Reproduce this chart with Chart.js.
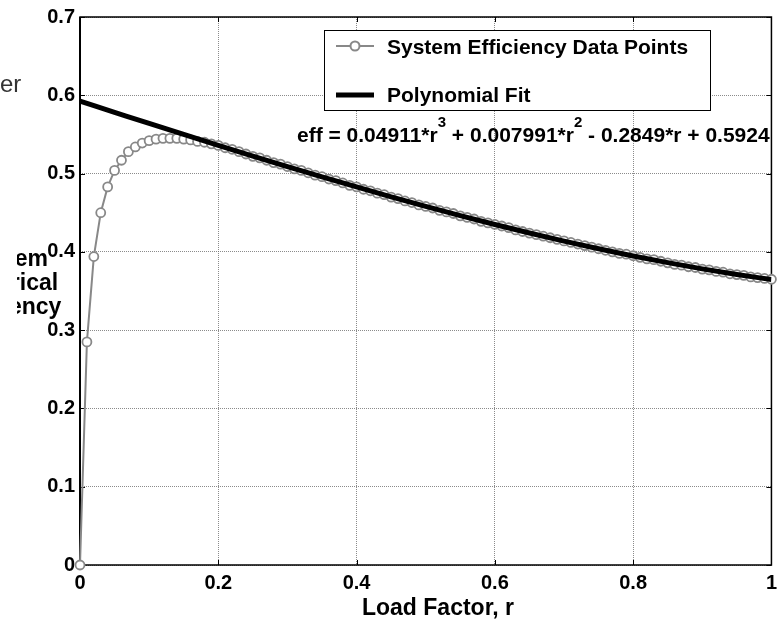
<!DOCTYPE html>
<html>
<head>
<meta charset="utf-8">
<script src="https://cdn.jsdelivr.net/npm/chart.js@4"></script>
<style>
  html, body { margin: 0; padding: 0; background: #fff; }
  #wrap { width: 783px; height: 620px; position: relative; }
</style>
</head>
<body>
<div id="wrap"><canvas id="effChart"></canvas></div>
<script>
// load factor r for the measured points
const loadFactor = [
  0.00, 0.01, 0.02, 0.03, 0.04, 0.05, 0.06, 0.07, 0.08, 0.09,
  0.10, 0.11, 0.12, 0.13, 0.14, 0.15, 0.16, 0.17, 0.18, 0.19,
  0.20, 0.21, 0.22, 0.23, 0.24, 0.25, 0.26, 0.27, 0.28, 0.29,
  0.30, 0.31, 0.32, 0.33, 0.34, 0.35, 0.36, 0.37, 0.38, 0.39,
  0.40, 0.41, 0.42, 0.43, 0.44, 0.45, 0.46, 0.47, 0.48, 0.49,
  0.50, 0.51, 0.52, 0.53, 0.54, 0.55, 0.56, 0.57, 0.58, 0.59,
  0.60, 0.61, 0.62, 0.63, 0.64, 0.65, 0.66, 0.67, 0.68, 0.69,
  0.70, 0.71, 0.72, 0.73, 0.74, 0.75, 0.76, 0.77, 0.78, 0.79,
  0.80, 0.81, 0.82, 0.83, 0.84, 0.85, 0.86, 0.87, 0.88, 0.89,
  0.90, 0.91, 0.92, 0.93, 0.94, 0.95, 0.96, 0.97, 0.98, 0.99,
  1.00
];
// system efficiency data points
const efficiency = [
  0.000, 0.285, 0.394, 0.450, 0.483, 0.504, 0.517, 0.528, 0.534, 0.539,
  0.542, 0.544, 0.545, 0.545, 0.545, 0.544, 0.543, 0.541, 0.540, 0.538,
  0.536, 0.533, 0.531, 0.528, 0.525, 0.522, 0.520, 0.517, 0.514, 0.512,
  0.509, 0.506, 0.504, 0.501, 0.498, 0.496, 0.493, 0.491, 0.488, 0.485,
  0.483, 0.480, 0.478, 0.475, 0.473, 0.470, 0.468, 0.465, 0.463, 0.460,
  0.458, 0.456, 0.453, 0.451, 0.449, 0.446, 0.444, 0.442, 0.439, 0.437,
  0.435, 0.433, 0.431, 0.428, 0.426, 0.424, 0.422, 0.420, 0.418, 0.416,
  0.414, 0.412, 0.410, 0.408, 0.406, 0.404, 0.402, 0.400, 0.398, 0.397,
  0.395, 0.393, 0.391, 0.390, 0.388, 0.386, 0.384, 0.383, 0.381, 0.380,
  0.378, 0.377, 0.375, 0.374, 0.372, 0.371, 0.370, 0.368, 0.367, 0.366,
  0.365
];
// polynomial fit curve
const fitR = [0, 0.05, 0.1, 0.15, 0.2, 0.25, 0.3, 0.35, 0.4, 0.45, 0.5,
  0.55, 0.6, 0.65, 0.7, 0.75, 0.8, 0.85, 0.9, 0.95, 1.0];
const fitEff = [0.5924, 0.5782, 0.5640, 0.5500, 0.5361, 0.5224, 0.5090, 0.4958,
  0.4829, 0.4703, 0.4581, 0.4463, 0.4350, 0.4241, 0.4137, 0.4039, 0.3947,
  0.3862, 0.3783, 0.3711, 0.3646];

const xTickLabels = ["0", "0.2", "0.4", "0.6", "0.8", "1"];
const yTickLabels = ["0", "0.1", "0.2", "0.3", "0.4", "0.5", "0.6", "0.7"];

const FONT = "'Liberation Sans', Arial, sans-serif";
const GRAY = "#888888";

// box, inner ticks, labels, legend and equation, matlab style
const decor = {
  id: "decor",
  beforeDatasetsDraw(chart) {
    const { ctx, chartArea: a, scales } = chart;
    ctx.save();
    ctx.strokeStyle = "#000";
    ctx.lineWidth = 1;
    scales.x.ticks.forEach((t) => {
      const px = Math.round(scales.x.getPixelForValue(t.value)) + 0.5;
      ctx.beginPath();
      ctx.moveTo(px, a.bottom); ctx.lineTo(px, a.bottom - 5);
      ctx.moveTo(px, a.top); ctx.lineTo(px, a.top + 5);
      ctx.stroke();
    });
    scales.y.ticks.forEach((t) => {
      const py = Math.round(scales.y.getPixelForValue(t.value)) + 0.5;
      ctx.beginPath();
      ctx.moveTo(a.left, py); ctx.lineTo(a.left + 5, py);
      ctx.moveTo(a.right, py); ctx.lineTo(a.right - 5, py);
      ctx.stroke();
    });
    ctx.lineWidth = 1.5;
    ctx.strokeRect(a.left, a.top, a.right - a.left, a.bottom - a.top);
    ctx.lineWidth = 2;
    ctx.beginPath();
    ctx.moveTo(a.left, a.top); ctx.lineTo(a.left, a.bottom);
    ctx.stroke();
    ctx.restore();
  },
  afterDraw(chart) {
    const { ctx } = chart;
    ctx.save();
    // clipped label pieces at the left edge
    ctx.fillStyle = "#333";
    ctx.font = "24px " + FONT;
    ctx.textAlign = "left";
    ctx.textBaseline = "alphabetic";
    ctx.fillText("er", 0, 92);

    ctx.save();
    ctx.beginPath();
    ctx.rect(17, 230, 80, 100);
    ctx.clip();
    ctx.fillStyle = "#000";
    ctx.font = "bold 23px " + FONT;
    ctx.textAlign = "center";
    ctx.fillText("System", 7, 266);
    ctx.fillText("Electrical", 7, 290);
    ctx.fillText("Efficiency", 7, 314);
    ctx.restore();

    // x axis title
    ctx.fillStyle = "#000";
    ctx.font = "bold 23px " + FONT;
    ctx.textAlign = "center";
    ctx.fillText("Load Factor, r", 438, 615);

    // legend
    ctx.fillStyle = "#fff";
    ctx.fillRect(324, 30, 386, 80);
    ctx.strokeStyle = "#000";
    ctx.lineWidth = 1;
    ctx.strokeRect(324.5, 30.5, 386, 80);
    ctx.strokeStyle = GRAY;
    ctx.lineWidth = 2;
    ctx.beginPath();
    ctx.moveTo(336, 46); ctx.lineTo(374, 46);
    ctx.stroke();
    ctx.beginPath();
    ctx.arc(355, 46, 4.5, 0, Math.PI * 2);
    ctx.fillStyle = "#fff";
    ctx.fill();
    ctx.stroke();
    ctx.strokeStyle = "#000";
    ctx.lineWidth = 5;
    ctx.beginPath();
    ctx.moveTo(336, 95); ctx.lineTo(374, 95);
    ctx.stroke();
    ctx.fillStyle = "#000";
    ctx.font = "bold 21px " + FONT;
    ctx.textAlign = "left";
    ctx.fillText("System Efficiency Data Points", 387, 54);
    ctx.fillText("Polynomial Fit", 387, 102);

    // fit equation with superscripts
    const parts = [
      ["eff = 0.04911*r", false], ["3", true],
      [" + 0.007991*r", false], ["2", true],
      [" - 0.2849*r + 0.5924", false]
    ];
    let x = 297;
    parts.forEach(([txt, sup]) => {
      ctx.font = (sup ? "bold 15px " : "bold 21px ") + FONT;
      ctx.fillText(txt, x, sup ? 127 : 142);
      x += ctx.measureText(txt).width;
    });
    ctx.restore();
  }
};

const ctx = document.getElementById("effChart").getContext("2d");
new Chart(ctx, {
  type: "scatter",
  data: {
    datasets: [
      {
        label: "Polynomial Fit",
        data: fitR.map((r, i) => ({ x: r, y: fitEff[i] })),
        showLine: true,
        borderColor: "#000",
        borderWidth: 5,
        pointRadius: 0,
        cubicInterpolationMode: "monotone",
        order: 0,
      },
      {
        label: "System Efficiency Data Points",
        data: loadFactor.map((r, i) => ({ x: r, y: efficiency[i] })),
        showLine: true,
        borderColor: GRAY,
        borderWidth: 2,
        pointRadius: 4.5,
        pointBorderWidth: 1.8,
        pointBorderColor: GRAY,
        pointBackgroundColor: "#fff",
        tension: 0,
        clip: false,
        order: 1,
      },
    ],
  },
  options: {
    responsive: true,
    maintainAspectRatio: false,
    animation: false,
    layout: { padding: { top: 15, right: 6, left: 0, bottom: 0 } },
    plugins: { legend: { display: false }, tooltip: { enabled: false } },
    scales: {
      x: {
        type: "linear",
        min: 0,
        max: 1,
        afterFit: (s) => { s.height = 55; },
        afterBuildTicks: (s) => {
          s.ticks = xTickLabels.map((l) => ({ value: parseFloat(l) }));
        },
        ticks: {
          padding: 6,
          color: "#000",
          font: { family: FONT, size: 20, weight: "bold" },
          callback: (v, i) => xTickLabels[i],
        },
        grid: { color: "rgba(110,110,110,0.8)", lineWidth: 1, drawTicks: false },
        border: { display: false, dash: [1, 1] },
      },
      y: {
        type: "linear",
        min: 0,
        max: 0.7,
        afterFit: (s) => { s.width = 80; },
        afterBuildTicks: (s) => {
          s.ticks = yTickLabels.map((l) => ({ value: parseFloat(l) }));
        },
        ticks: {
          padding: 5,
          color: "#000",
          font: { family: FONT, size: 20, weight: "bold" },
          callback: (v, i) => yTickLabels[i],
        },
        grid: { color: "rgba(110,110,110,0.8)", lineWidth: 1, drawTicks: false },
        border: { display: false, dash: [1, 1] },
      },
    },
  },
  plugins: [decor],
});
</script>
</body>
</html>
